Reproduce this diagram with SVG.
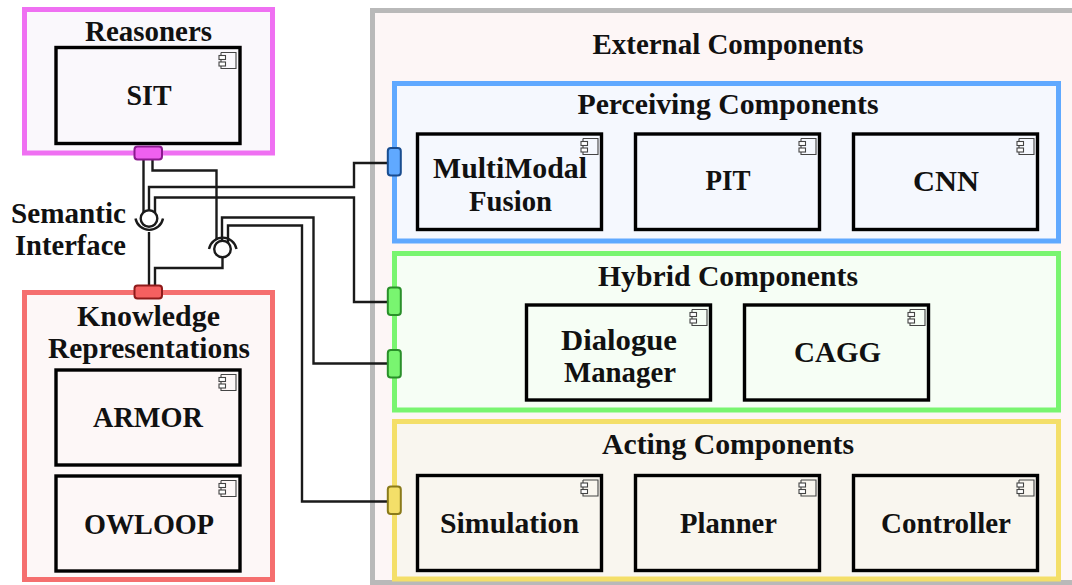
<svg xmlns="http://www.w3.org/2000/svg" xmlns:xlink="http://www.w3.org/1999/xlink" width="1072" height="585" viewBox="0 0 1072 585">
<style>
text{font-family:"Liberation Serif","Times New Roman",serif;font-weight:700;font-size:28.5px;fill:#111;text-anchor:middle;transform:translateY(.8px)}
.comp{fill:none;stroke:#000;stroke-width:3.4}
.group{stroke-width:5}
.wire{fill:none;stroke:#1a1a1a;stroke-width:2.4}
.port{stroke-width:2}
.ball{fill:#fff;stroke:#1a1a1a;stroke-width:2.4}
.ico{fill:none;stroke:#444;stroke-width:1.1}
.icobar{fill:#fff;stroke:#444;stroke-width:1.1}
</style>
<defs>
<g id="icon">
<path class="ico" d="M-20 5.5H-5V21.5H-20V18M-20 15V12M-20 9V5.5"/>
<rect class="icobar" x="-22" y="8.5" width="6.5" height="4"/>
<rect class="icobar" x="-22" y="15" width="6.5" height="4"/>
</g>
</defs>
<rect width="1072" height="585" fill="#fff"/>
<g id="external">
<rect class="group" x="372.500" y="10.500" width="702" height="572" fill="#fdf6f6" stroke="#b9b9b9"/>
<text x="728" y="53" textLength="271" lengthAdjust="spacingAndGlyphs">External Components</text>
</g>
<g id="reasoners">
<rect class="group" x="24.500" y="9.500" width="248" height="143.500" fill="#faf8fc" stroke="#ef70f2"/>
<text x="148.500" y="40" textLength="127" lengthAdjust="spacingAndGlyphs">Reasoners</text>
</g>
<g id="sit">
<rect class="comp" x="56" y="47.500" width="184" height="96"/>
<use xlink:href="#icon" href="#icon" transform="translate(241 47)"/>
<text x="149" y="104" textLength="45" lengthAdjust="spacingAndGlyphs">SIT</text>
</g>
<g id="knowledge">
<rect class="group" x="24.500" y="292.500" width="248" height="287" fill="#fdf7f7" stroke="#f56f6f"/>
<text x="148.500" y="325" textLength="143" lengthAdjust="spacingAndGlyphs">Knowledge</text>
<text x="149" y="357" textLength="202" lengthAdjust="spacingAndGlyphs">Representations</text>
</g>
<g id="armor">
<rect class="comp" x="56" y="370" width="184" height="95"/>
<use xlink:href="#icon" href="#icon" transform="translate(241 369)"/>
<text x="148" y="426" textLength="110" lengthAdjust="spacingAndGlyphs">ARMOR</text>
</g>
<g id="owloop">
<rect class="comp" x="56" y="476" width="184" height="95"/>
<use xlink:href="#icon" href="#icon" transform="translate(241 475)"/>
<text x="149" y="533" textLength="130" lengthAdjust="spacingAndGlyphs">OWLOOP</text>
</g>
<g id="perceiving">
<rect class="group" x="394.500" y="83.500" width="664" height="157.500" fill="#f5f8fe" stroke="#60a9ff"/>
<text x="728" y="113" textLength="301" lengthAdjust="spacingAndGlyphs">Perceiving Components</text>
</g>
<g id="multimodal">
<rect class="comp" x="417.500" y="134" width="184" height="95.500"/>
<use xlink:href="#icon" href="#icon" transform="translate(603 133)"/>
<text x="510" y="177" textLength="154" lengthAdjust="spacingAndGlyphs">MultiModal</text>
<text x="510.500" y="210" textLength="83" lengthAdjust="spacingAndGlyphs">Fusion</text>
</g>
<g id="pit">
<rect class="comp" x="635.500" y="134" width="184" height="95.500"/>
<use xlink:href="#icon" href="#icon" transform="translate(821 133)"/>
<text x="728" y="189" textLength="45" lengthAdjust="spacingAndGlyphs">PIT</text>
</g>
<g id="cnn">
<rect class="comp" x="853.500" y="134" width="184" height="95.500"/>
<use xlink:href="#icon" href="#icon" transform="translate(1039 133)"/>
<text x="946" y="190" textLength="66" lengthAdjust="spacingAndGlyphs">CNN</text>
</g>
<g id="hybrid">
<rect class="group" x="394.500" y="253.500" width="664" height="156.500" fill="#f6fef5" stroke="#79f570"/>
<text x="728" y="285" textLength="260" lengthAdjust="spacingAndGlyphs">Hybrid Components</text>
</g>
<g id="dialogue">
<rect class="comp" x="526.500" y="305" width="184" height="95"/>
<use xlink:href="#icon" href="#icon" transform="translate(712 304)"/>
<text x="619" y="349" textLength="116" lengthAdjust="spacingAndGlyphs">Dialogue</text>
<text x="620" y="381" textLength="112" lengthAdjust="spacingAndGlyphs">Manager</text>
</g>
<g id="cagg">
<rect class="comp" x="744.500" y="305" width="184" height="95"/>
<use xlink:href="#icon" href="#icon" transform="translate(930 304)"/>
<text x="837.500" y="361" textLength="87" lengthAdjust="spacingAndGlyphs">CAGG</text>
</g>
<g id="acting">
<rect class="group" x="394.500" y="421.500" width="664" height="157.500" fill="#f9f6ef" stroke="#f4df69"/>
<text x="728" y="453" textLength="252" lengthAdjust="spacingAndGlyphs">Acting Components</text>
</g>
<g id="simulation">
<rect class="comp" x="417.500" y="475.500" width="184" height="95"/>
<use xlink:href="#icon" href="#icon" transform="translate(603 474.500)"/>
<text x="509.500" y="532" textLength="139" lengthAdjust="spacingAndGlyphs">Simulation</text>
</g>
<g id="planner">
<rect class="comp" x="635.500" y="475.500" width="184" height="95"/>
<use xlink:href="#icon" href="#icon" transform="translate(821 474.500)"/>
<text x="728.500" y="532" textLength="97" lengthAdjust="spacingAndGlyphs">Planner</text>
</g>
<g id="controller">
<rect class="comp" x="853.500" y="475.500" width="184" height="95"/>
<use xlink:href="#icon" href="#icon" transform="translate(1039 474.500)"/>
<text x="946" y="532" textLength="130" lengthAdjust="spacingAndGlyphs">Controller</text>
</g>
<g id="connectors">
<path class="wire" d="M143.500 160V214"/>
<path class="wire" d="M152.500 160V170.500H216.500V240"/>
<path class="wire" d="M388 163H354V187H149V212"/>
<path class="wire" d="M388 302H354V197.500H155V213"/>
<path class="wire" d="M222 242V217.500H313.500V363.500H388"/>
<path class="wire" d="M228 243V225.500H302V501.500H388"/>
<path class="wire" d="M149 232V285"/>
<path class="wire" d="M222.500 258V268H155V285"/>
<path class="wire" d="M135.500 218.500A14 14 0 0 0 163 218.500"/>
<path class="wire" d="M209 249A14 14 0 0 1 236.500 249"/>
<circle class="ball" cx="149" cy="218.500" r="8.300"/>
<circle class="ball" cx="222.500" cy="249" r="8.300"/>
</g>
<g id="port-reasoners"><rect class="port" x="134.500" y="146.500" width="27.500" height="13" rx="3" fill="#ef60f0" stroke="#8a1a8e"/></g>
<g id="port-knowledge"><rect class="port" x="134.500" y="285.500" width="27.500" height="13" rx="3" fill="#f56060" stroke="#8f1a1a"/></g>
<g id="port-perceiving"><rect class="port" x="387.800" y="148" width="13" height="27.500" rx="3" fill="#60a9ff" stroke="#1a4d8f"/></g>
<g id="port-hybrid-a"><rect class="port" x="387.800" y="287.500" width="13" height="27.500" rx="3" fill="#79f570" stroke="#2a8f2a"/></g>
<g id="port-hybrid-b"><rect class="port" x="387.800" y="350" width="13" height="27.500" rx="3" fill="#79f570" stroke="#2a8f2a"/></g>
<g id="port-acting"><rect class="port" x="387.800" y="486.500" width="13" height="27.500" rx="3" fill="#f4df69" stroke="#8a7a1a"/></g>
<g id="semantic-interface">
<text x="68.500" y="222" textLength="115" lengthAdjust="spacingAndGlyphs">Semantic</text>
<text x="70.500" y="254" textLength="111" lengthAdjust="spacingAndGlyphs">Interface</text>
</g>
</svg>
